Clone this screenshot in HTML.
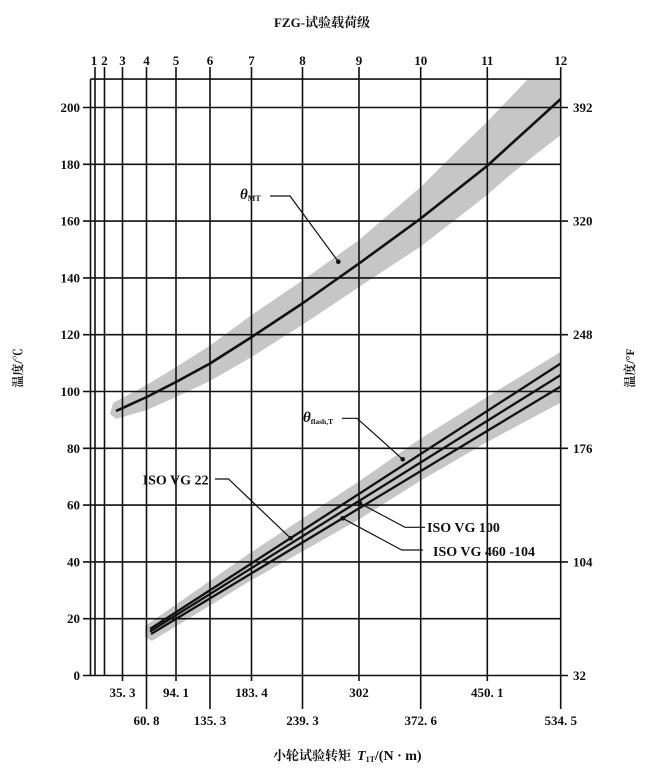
<!DOCTYPE html>
<html><head><meta charset="utf-8"><style>
html,body{margin:0;padding:0;background:#fff;}
svg{display:block;}
text{font-family:"Liberation Serif","Noto Serif CJK SC",serif;fill:#111;}
.cjk{font-family:"Liberation Serif","Noto Serif CJK SC","Noto Sans CJK SC",serif;}
</style></head><body>
<svg width="656" height="777" viewBox="0 0 656 777" xmlns="http://www.w3.org/2000/svg">
<defs>
<clipPath id="plot"><rect x="90.5" y="79" width="470.2" height="597"/></clipPath>
</defs>
<rect width="656" height="777" fill="#fff"/>

<!-- bands -->
<g clip-path="url(#plot)" fill="#c6c6c6">
<path d="M113,403 L146.7,385 L176,367 L210,345.5 L251.7,315 L302.3,280.5 L359,240 L420.7,187 L460,148 L487,122 L528,79 L562,40 L562,135 L560.7,135 L535,155 L510,175 L487,195 L455,220 L420.7,246.5 L359,287 L302.3,325 L251.7,357 L210,381 L176,397 L146.7,410 L116,419 L110,414 Z"/>
<path d="M145,626 L250,553 L358,482 L420,439 L487,397 L562,351 L562,402 L487,442 L420,481 L358,520 L250,581 L152,641 L145,637 Z"/>
</g>

<!-- grid -->
<g stroke="#111" stroke-width="1.6" fill="none">
<path d="M83,675.5H560.7 M83,618.7H560.7 M83,561.9H560.7 M83,505.1H560.7 M83,448.3H560.7 M83,391.5H560.7 M83,334.7H560.7 M83,277.9H560.7 M83,221.1H560.7 M83,164.3H560.7 M83,107.5H560.7 M90.5,79.1H560.7"/>
<path d="M560.7,675.5H568 M560.7,561.9H568 M560.7,448.3H568 M560.7,334.7H568 M560.7,221.1H568 M560.7,107.5H568"/>
<path d="M90.5,79.1V675.5"/>
<path d="M95,67V675.5 M104.5,67V675.5 M122.5,67V681 M146.5,67V709 M176,67V681 M210,67V709 M251.5,67V681 M302.5,67V709 M359,67V681 M420.7,67V709 M487.3,67V681 M560.7,67V709"/>
</g>

<!-- theta MT curve -->
<polyline points="116,411 146.7,397 176,382 210,363.5 251.7,337 302.3,303.5 359,263.5 420.7,218.5 487,166 560.7,99" fill="none" stroke="#111" stroke-width="2.6" stroke-linejoin="round"/>

<!-- lower lines -->
<g stroke="#111" stroke-width="2.3" fill="none">
<path d="M150,629 L560.7,363.5"/>
<path d="M150,631.5 L560.7,375"/>
<path d="M151,634 L560.7,386.5"/>
</g>

<!-- leaders -->
<g stroke="#111" stroke-width="1.2" fill="none">
<path d="M270,196 H290 L338.3,261.7"/>
<path d="M342,418.3 H357 L402.7,459.3"/>
<path d="M215,479 H228.5 L290.7,538.3"/>
<path d="M360,503.3 L405,527.3 H425"/>
<path d="M342.7,518.3 L401.7,550 H423"/>
</g>
<g fill="#111">
<circle cx="338.3" cy="261.7" r="2.3"/>
<circle cx="402.7" cy="459.3" r="2.3"/>
<circle cx="290.7" cy="538.3" r="2.3"/>
<circle cx="360" cy="503.3" r="2.3"/>
<circle cx="342.7" cy="518.3" r="2.3"/>
</g>

<!-- title -->
<text class="cjk" x="322" y="27" text-anchor="middle" font-size="13" font-weight="bold">FZG-试验载荷级</text>

<!-- top stage labels -->
<g font-size="13" font-weight="bold" text-anchor="middle">
<text x="94" y="65">1</text>
<text x="104.5" y="65">2</text>
<text x="122.5" y="65">3</text>
<text x="146.5" y="65">4</text>
<text x="176" y="65">5</text>
<text x="210" y="65">6</text>
<text x="251.5" y="65">7</text>
<text x="302.5" y="65">8</text>
<text x="359" y="65">9</text>
<text x="420.7" y="65">10</text>
<text x="487.3" y="65">11</text>
<text x="560.7" y="65">12</text>
</g>

<!-- left tick labels -->
<g font-size="13" font-weight="bold" text-anchor="end">
<text x="80" y="680">0</text>
<text x="80" y="623.2">20</text>
<text x="80" y="566.4">40</text>
<text x="80" y="509.6">60</text>
<text x="80" y="452.8">80</text>
<text x="80" y="396">100</text>
<text x="80" y="339.2">120</text>
<text x="80" y="282.4">140</text>
<text x="80" y="225.6">160</text>
<text x="80" y="168.8">180</text>
<text x="80" y="112">200</text>
</g>

<!-- right tick labels -->
<g font-size="13" font-weight="bold" text-anchor="start">
<text x="573" y="680">32</text>
<text x="573" y="566.4">104</text>
<text x="573" y="452.8">176</text>
<text x="573" y="339.2">248</text>
<text x="573" y="225.6">320</text>
<text x="573" y="112">392</text>
</g>

<!-- bottom labels -->
<g font-size="13" font-weight="bold" text-anchor="middle">
<text x="122.5" y="697">35. 3</text>
<text x="176" y="697">94. 1</text>
<text x="251.5" y="697">183. 4</text>
<text x="359" y="697">302</text>
<text x="487.3" y="697">450. 1</text>
<text x="146.5" y="725">60. 8</text>
<text x="210" y="725">135. 3</text>
<text x="302.5" y="725">239. 3</text>
<text x="420.7" y="725">372. 6</text>
<text x="560.7" y="725">534. 5</text>
</g>

<!-- curve labels -->
<text x="240" y="199" font-weight="bold"><tspan font-size="15" font-style="italic">θ</tspan><tspan font-size="8" dy="2">MT</tspan></text>
<text x="303" y="422" font-weight="bold"><tspan font-size="15" font-style="italic">θ</tspan><tspan font-size="7.5" dy="2">flash,T</tspan></text>

<g font-size="14" font-weight="bold">
<text x="142.7" y="484.5">ISO VG 22</text>
<text x="427" y="532">ISO VG 100</text>
<text x="433" y="556">ISO VG 460 -104</text>
</g>

<!-- axis labels -->
<text class="cjk" x="273" y="760" font-size="13" font-weight="bold">小轮试验转矩</text>
<text x="357" y="760" font-size="14" font-weight="bold"><tspan font-style="italic">T</tspan><tspan font-size="8" dy="2">1T</tspan><tspan dy="-2">/(N · m)</tspan></text>

<text class="cjk" transform="translate(22,368) rotate(-90)" text-anchor="middle" font-size="12" font-weight="bold">温度/℃</text>
<text class="cjk" transform="translate(634,368) rotate(-90)" text-anchor="middle" font-size="12" font-weight="bold">温度/°F</text>
</svg>
</body></html>
